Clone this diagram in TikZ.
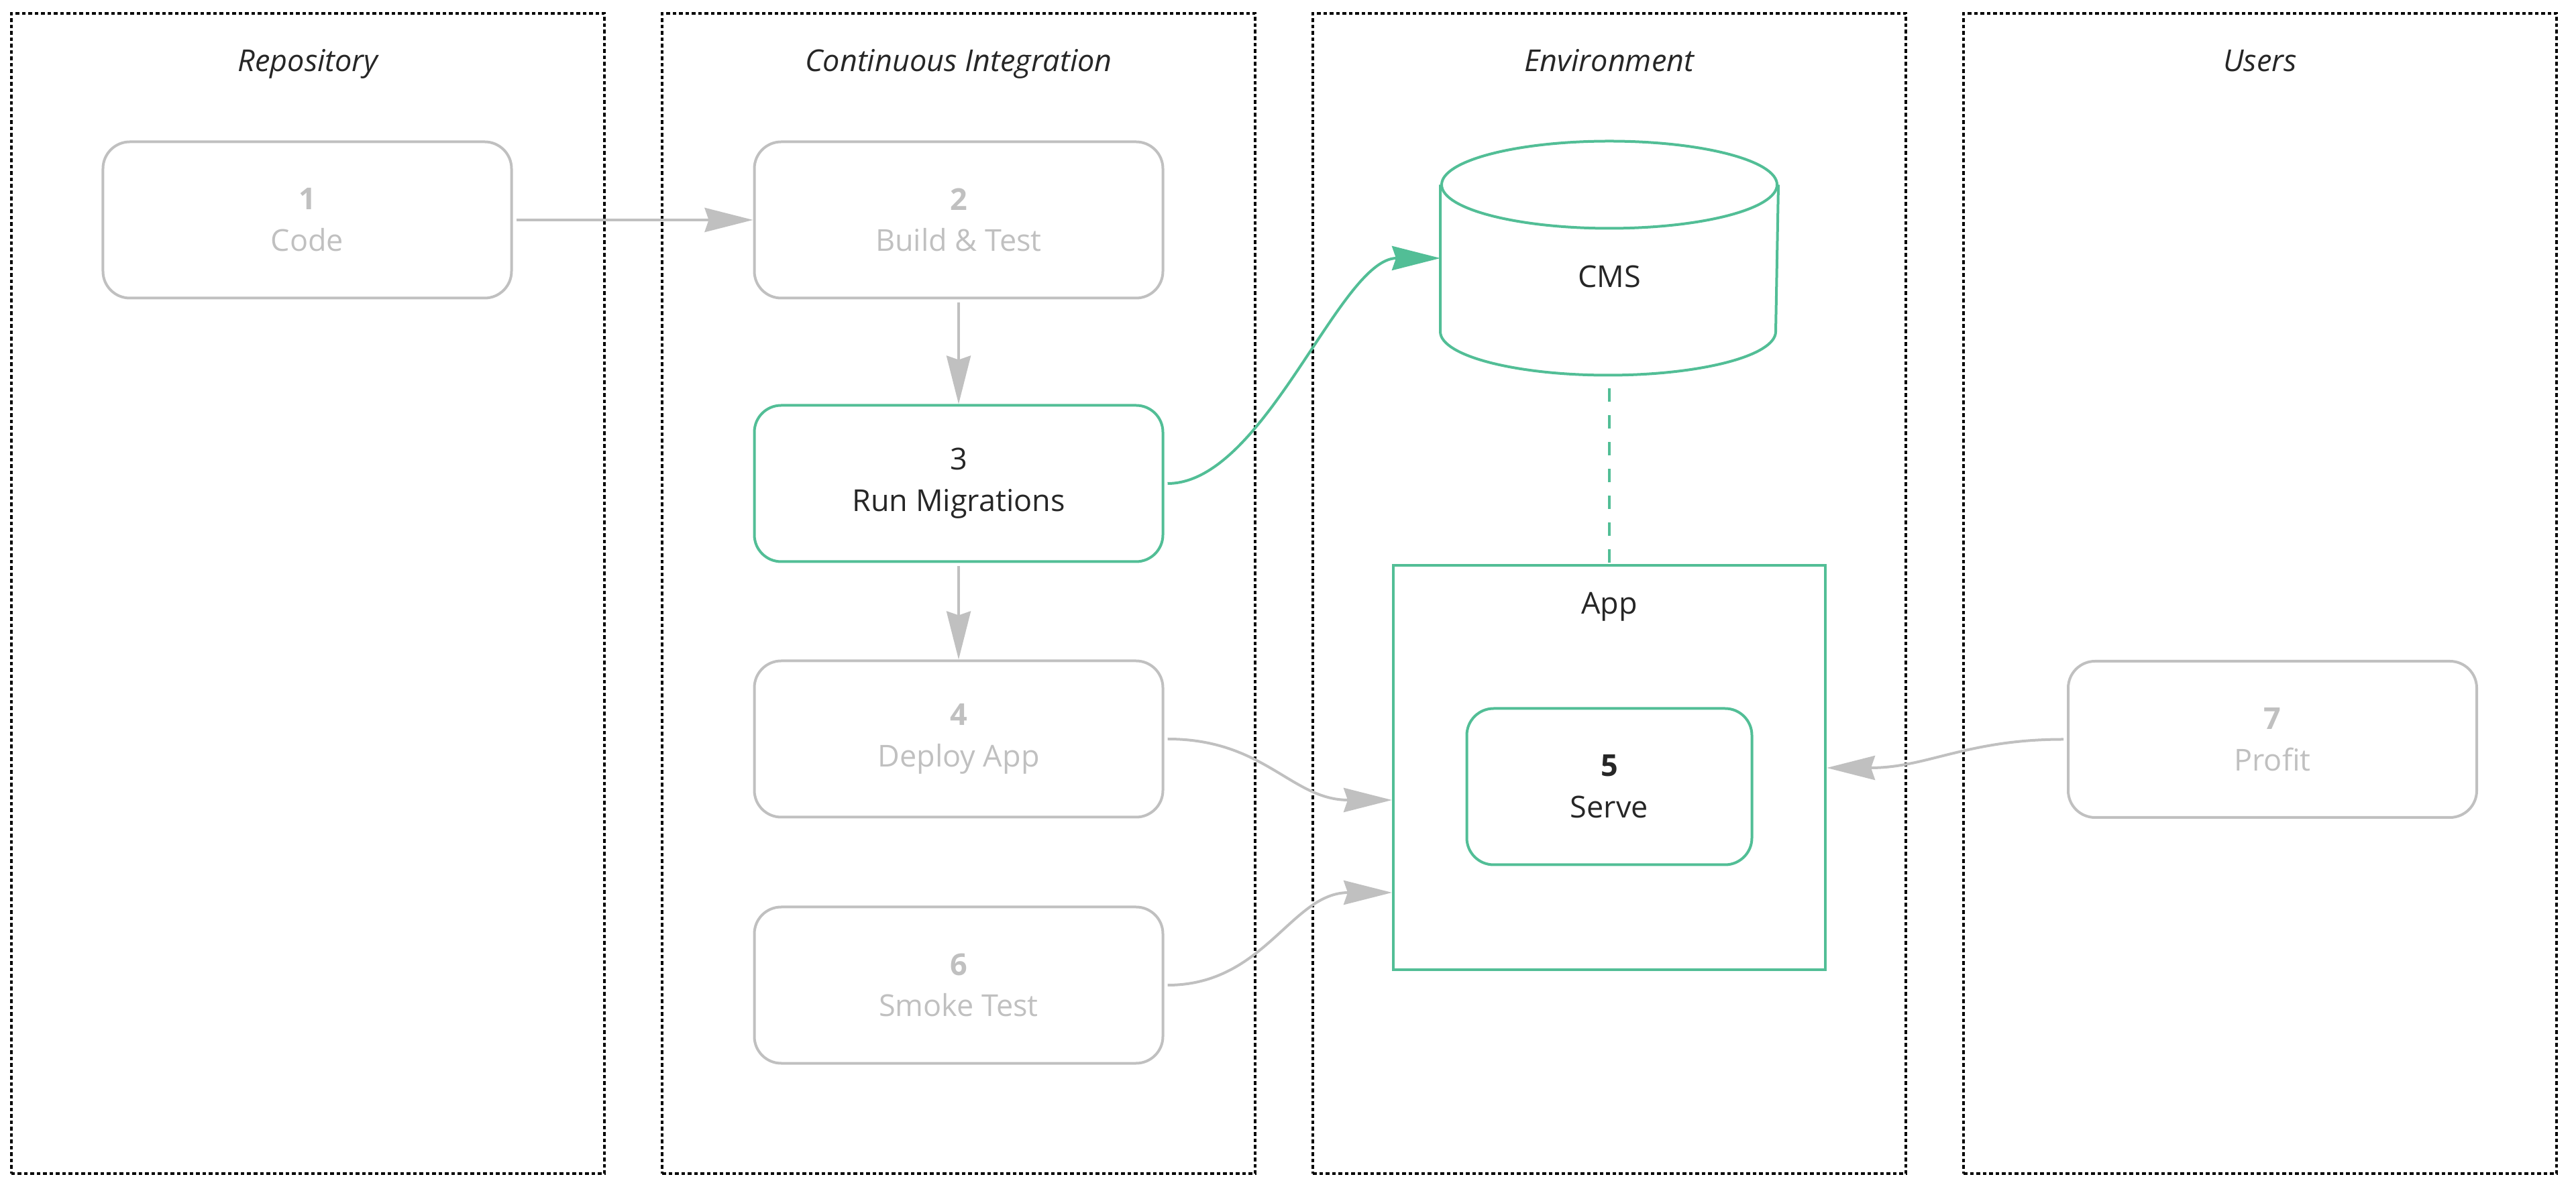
\documentclass[tikz,border=0pt]{standalone}
\usepackage{fontspec}
\setmainfont{Open Sans}
\usetikzlibrary{arrows.meta, positioning}

\definecolor{faded}{HTML}{C0C0C0}
\definecolor{mint}{HTML}{52BE96}
\definecolor{ink}{HTML}{262626}
\newcommand{\diagfont}{\fontsize{12.8}{17.6}\selectfont}

\begin{document}
\begin{tikzpicture}[
            x=1mm, y=1mm,
            font=\diagfont,
            lane/.style={draw=black, line width=0.35mm, dash pattern=on 0.55mm off 0.4mm,
                minimum width=88.4mm, minimum height=173mm, inner sep=0pt, outer sep=0pt},
            lanetitle/.style={font=\diagfont\itshape, text=ink, anchor=base},
            stepbox/.style={draw=faded, text=faded, line width=0.4mm, rounded corners=4mm,
                minimum width=60.9mm, minimum height=23.3mm, align=center, inner sep=0pt, outer sep=0.2mm},
            active/.style={draw=mint, text=ink},
            appbox/.style={draw=mint, line width=0.4mm, minimum width=64.4mm, minimum height=60.3mm,
                inner sep=0pt, outer sep=0.2mm},
            dbshape/.style={minimum width=50mm, minimum height=34.5mm, inner sep=0pt, outer sep=0.2mm},
            dbline/.style={draw=mint, line width=0.4mm},
            flow/.style={draw=faded, line width=0.4mm, shorten <=0.5mm,
                -{Stealth[length=7.2mm, width=3.6mm, inset=0.6mm]}},
            migrate/.style={flow, draw=mint},
            link/.style={draw=mint, line width=0.4mm, dash pattern=on 2mm off 2mm, dash phase=2mm},
            node distance=15.6mm
        ]

            \useasboundingbox (0,0) rectangle (384,177.3);

            % Swim lanes
            \node[lane] (repo) at (45.9,88.8) {};
            \node[lane, right=8.6mm of repo] (ci) {};
            \node[lane, right=8.6mm of ci] (env) {};
            \node[lane, right=8.6mm of env] (users) {};

            % Lane titles
            \node[lanetitle] at ([yshift=-8.7mm]repo.north) {Repository};
            \node[lanetitle] at ([yshift=-8.7mm]ci.north) {Continuous Integration};
            \node[lanetitle] at ([yshift=-8.7mm]env.north) {Environment};
            \node[lanetitle] at ([yshift=-8.7mm]users.north) {Users};

            % Pipeline steps
            \node[stepbox] (build) at (142.9,144.5) {\textbf{2}\\Build \& Test};
            \node[stepbox, left=35.8mm of build] (code) {\textbf{1}\\Code};
            \node[stepbox, active, below=of build] (run) {3\\Run Migrations};
            \node[stepbox, below=14.4mm of run] (deploy) {\textbf{4}\\Deploy App};
            \node[stepbox, below=13mm of deploy] (smoke) {\textbf{6}\\Smoke Test};

            % CMS database
            \node[dbshape] (cms) at (239.9,138.8) {};
            \draw[dbline] ([yshift=-6.5mm]cms.north) ellipse [x radius=25mm, y radius=6.5mm];
            \draw[dbline] ([yshift=-6.5mm]cms.north west) -- ([yshift=6.5mm]cms.south west)
                arc[start angle=180, end angle=360, x radius=25mm, y radius=6.5mm]
                -- ([yshift=-6.5mm]cms.north east);
            \node[text=ink] (cmslabel) at ([yshift=-2.7mm]cms.center) {CMS};

            % App container
            \node[appbox, below=28.2mm of cms] (app) {};
            \node[text=ink, anchor=base] (applabel) at ([yshift=-7.4mm]app.north) {App};
            \node[stepbox, active, minimum width=42.5mm] (serve) at ([yshift=-2.8mm]app.center) {\textbf{5}\\Serve};

            % Users
            \node[stepbox] (profit) at (338.75,67.05) {\textbf{7}\\Profit};

            % Arrows for pipeline
            \draw[flow] (code) -- (build);
            \draw[flow] (build) -- (run);
            \draw[flow] (run) -- (deploy);

            % Migrations and app links
            \draw[migrate] (run.east) .. controls +(15,0) and +(-15,0) .. (cms.west);
            \draw[link] (cms) -- (app);
            \draw[flow] (deploy.east) .. controls +(15,0) and +(-15,0) .. ([yshift=-4.8mm]app.west);
            \draw[flow] (smoke.east) .. controls +(15,0) and +(-15,0) .. ([yshift=-18.6mm]app.west);
            \draw[flow] (profit.west) .. controls +(-15,0) and +(15,0) .. (app.east);

        \end{tikzpicture}
\end{document}
